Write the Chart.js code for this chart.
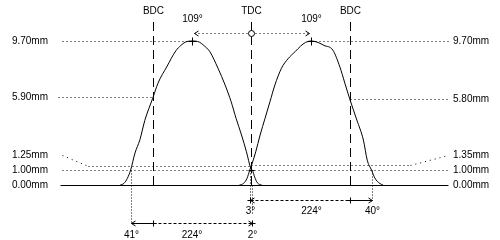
<!DOCTYPE html>
<html>
<head>
<meta charset="utf-8">
<script src="https://cdn.jsdelivr.net/npm/chart.js@4"></script>
<style>
html,body{margin:0;padding:0;background:#fff;}
canvas{display:block;}
</style>
</head>
<body>
<canvas id="c" width="500" height="240"></canvas>
<script>
// ---- data ----
const exhaustDeg  = [-240, -233, -227, -221, -213, -204, -195, -180, -171, -155, -138, -129, -121, -108, -95, -87, -76, -61, -48, -37, -28, -18, -9, -1, 2, 6, 11, 19];
const exhaustLift = [0, 0.12, 0.45, 1.00, 2.15, 3.05, 4.35, 5.90, 6.85, 7.95, 9.05, 9.40, 9.62, 9.70, 9.62, 9.40, 8.98, 7.86, 6.73, 5.61, 4.49, 3.37, 2.24, 1.12, 1.00, 0.55, 0.15, 0];
const intakeDeg   = [-22, -14, -8, -3, 0, 8, 16, 25, 34, 43, 55, 67, 80, 90, 99, 110, 122, 133, 149, 162, 171, 180, 193, 205, 212, 220, 226, 235, 241];
const intakeLift  = [0, 0.12, 0.45, 1.00, 1.30, 2.24, 3.37, 4.49, 5.61, 6.73, 7.86, 8.50, 8.98, 9.35, 9.60, 9.70, 9.60, 9.40, 9.09, 7.95, 6.87, 5.80, 4.38, 3.03, 1.68, 1.00, 0.47, 0.11, 0];

const levelsLeft  = [9.70, 5.90, 1.25, 1.00, 0.00];
const levelsRight = [9.70, 5.80, 1.35, 1.00, 0.00];

const strokeDeg    = [-180, 0, 180];
const strokeLabels = ['BDC', 'TDC', 'BDC'];

const peakDeg    = [-109, 110];
const peakLift   = 9.70;
const peakLabels = ['109°', '109°'];

const timingLift = 1.00;
const exhaustEvents = [-221, -180, 2];
const exhaustEventLabels = ['41°', '224°', '2°'];
const intakeEvents = [-3, 180, 220];
const intakeEventLabels = ['3°', '224°', '40°'];

const toPts = (xs, ys) => xs.map((x, i) => ({x: x, y: ys[i]}));

const FONT = '10px "Liberation Sans", Arial, sans-serif';

const annot = {
  id: 'annot',
  afterDatasetsDraw(chart) {
    const ctx = chart.ctx, sx = chart.scales.x, sy = chart.scales.y;
    const X = v => Math.round(sx.getPixelForValue(v)) + 0.5;
    const Y = v => Math.round(sy.getPixelForValue(v)) + 0.5;
    const L = 60.5, R = 448.5;
    ctx.save();
    ctx.strokeStyle = '#000'; ctx.fillStyle = '#000'; ctx.lineWidth = 1;
    function seg(x1, y1, x2, y2, dash) {
      ctx.setLineDash(dash || []);
      ctx.beginPath(); ctx.moveTo(x1, y1); ctx.lineTo(x2, y2); ctx.stroke();
      ctx.setLineDash([]);
    }
    const DOT = [1, 3];
    function text(t, x, y, align) {
      ctx.font = FONT; ctx.textAlign = align || 'center'; ctx.textBaseline = 'middle';
      ctx.fillText(t, x, y);
    }
    function plus(x, y, s) { seg(x - s, y, x + s, y); seg(x, y - s, x, y + s); }
    function headR(x, y) { seg(x - 4, y - 2.5, x, y); seg(x - 4, y + 2.5, x, y); }
    function headL(x, y) { seg(x + 4, y - 2.5, x, y); seg(x + 4, y + 2.5, x, y); }

    const y0 = Y(0), y1 = Y(timingLift);
    // level lines
    seg(L, y0, R, y0);
    seg(L + 2, Y(levelsLeft[0]), X(peakDeg[0]) - 3, Y(levelsLeft[0]), DOT);
    seg(X(peakDeg[1]) + 4, Y(levelsRight[0]), R, Y(levelsRight[0]), DOT);
    seg(L - 2, Y(levelsLeft[1]), X(strokeDeg[0]), Y(levelsLeft[1]), DOT);
    seg(X(strokeDeg[2]), Y(levelsRight[1]), R, Y(levelsRight[1]), DOT);
    seg(L + 2, y1, R, y1, DOT);
    const yl = y1 - 15;
    seg(L + 2, yl, 88.5, Y(levelsLeft[2]), [1, 4]);
    seg(88.5, Y(levelsLeft[2]), X(0), Y(levelsLeft[2]), DOT);
    seg(X(0), Y(levelsRight[2]), 410.5, Y(levelsRight[2]), DOT);
    seg(410.5, Y(levelsRight[2]), R, yl, [1, 4]);

    const fmt = v => v.toFixed(2) + 'mm';
    levelsLeft.forEach((v, i) => text(fmt(v), 48, i === 2 ? yl : Y(v), 'right'));
    levelsRight.forEach((v, i) => text(fmt(v), 453, i === 2 ? yl : Y(v), 'left'));

    // BDC / TDC lines
    strokeDeg.forEach((d, i) => {
      seg(X(d), 22, X(d), y0, [9, 5]);
      text(strokeLabels[i], X(d), 11);
    });
    // peak markers and labels
    peakDeg.forEach((d, i) => {
      plus(X(d), Y(peakLift), 4);
      text(peakLabels[i], X(d), 19);
    });
    // top arrow
    const ya = Y(peakLift) - 8;
    seg(X(peakDeg[0]) + 2, ya, X(0) - 4, ya, DOT);
    seg(X(0) + 4, ya, X(peakDeg[1]) - 2, ya, DOT);
    headL(X(peakDeg[0]) + 2, ya); headR(X(peakDeg[1]) - 2, ya);
    ctx.beginPath(); ctx.arc(X(0), ya, 3, 0, Math.PI * 2);
    ctx.fillStyle = '#fff'; ctx.fill(); ctx.stroke(); ctx.fillStyle = '#000';
    // crossing marker
    plus(X(0), y1, 3);

    // intake timing arrow
    const yi = y0 + 15;
    seg(X(intakeEvents[0]), y1, X(intakeEvents[0]), yi, [1, 2]);
    seg(X(intakeEvents[2]), y1, X(intakeEvents[2]), yi, [1, 2]);
    seg(X(intakeEvents[0]), yi, X(intakeEvents[1]), yi, [3, 2]);
    seg(X(intakeEvents[1]), yi, X(intakeEvents[2]), yi);
    plus(X(intakeEvents[0]), yi, 3); plus(X(intakeEvents[1]), yi, 3);
    headL(X(intakeEvents[0]), yi); headR(X(intakeEvents[2]), yi);
    text(intakeEventLabels[0], X(intakeEvents[0]), yi + 11);
    text(intakeEventLabels[1], (X(intakeEvents[0]) + X(intakeEvents[2])) / 2, yi + 11);
    text(intakeEventLabels[2], X(intakeEvents[2]), yi + 11);

    // exhaust timing arrow
    const ye = y0 + 38;
    seg(X(exhaustEvents[0]), y1, X(exhaustEvents[0]), ye, [1, 2]);
    seg(X(exhaustEvents[2]), y0, X(exhaustEvents[2]), ye - 10, [1, 2]);
    seg(X(exhaustEvents[0]), ye, X(exhaustEvents[1]), ye);
    seg(X(exhaustEvents[1]), ye, X(exhaustEvents[2]), ye, [3, 2]);
    plus(X(exhaustEvents[1]), ye, 3); plus(X(exhaustEvents[2]), ye, 3);
    headL(X(exhaustEvents[0]), ye); headR(X(exhaustEvents[2]), ye);
    text(exhaustEventLabels[0], X(exhaustEvents[0]), ye + 12);
    text(exhaustEventLabels[1], (X(exhaustEvents[0]) + X(exhaustEvents[2])) / 2, ye + 12);
    text(exhaustEventLabels[2], X(exhaustEvents[2]), ye + 12);
    ctx.restore();
  }
};

new Chart(document.getElementById('c'), {
  type: 'scatter',
  data: {
    datasets: [
      {label: 'Exhaust', data: toPts(exhaustDeg, exhaustLift)},
      {label: 'Intake', data: toPts(intakeDeg, intakeLift)}
    ].map(d => Object.assign(d, {
      showLine: true, borderColor: '#000', borderWidth: 1, pointRadius: 0,
      cubicInterpolationMode: 'monotone', fill: false
    }))
  },
  options: {
    responsive: false, animation: false, devicePixelRatio: 1,
    layout: {padding: 0},
    plugins: {legend: {display: false}, tooltip: {enabled: false}},
    scales: {
      x: {type: 'linear', display: false, min: -460, max: 455},
      y: {type: 'linear', display: false, min: -3.7, max: 12.46}
    }
  },
  plugins: [annot]
});
</script>
</body>
</html>
